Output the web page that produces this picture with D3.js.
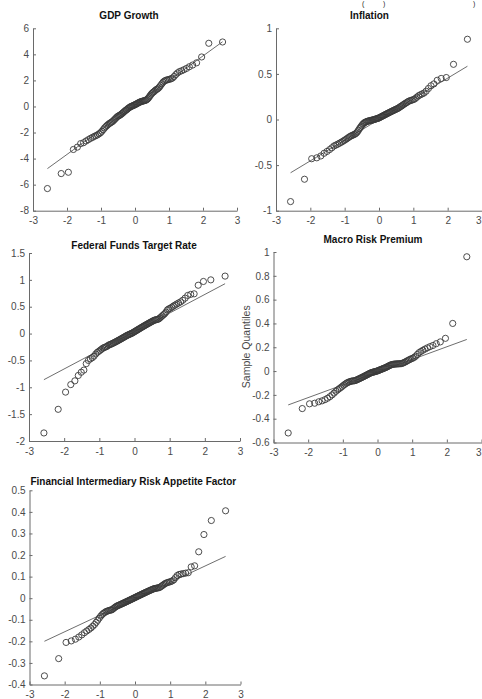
<!DOCTYPE html>
<html>
<head>
<meta charset="utf-8">
<script src="https://cdn.jsdelivr.net/npm/d3@7"></script>
<style>
  html, body { margin: 0; padding: 0; background: #fff; overflow: hidden; }
  svg { display: block; font-family: "Liberation Sans", Arial, Helvetica, sans-serif; }
</style>
</head>
<body>
<svg id="chart" width="482" height="699"></svg>
<script>
// Sorted sample values (sample quantiles) for each factor
const gdpGrowth = [
  -6.30, -5.15, -5.05, -3.30, -3.12, -2.85, -2.78, -2.65, -2.55, -2.45,
  -2.38, -2.30, -2.24, -2.18, -2.10, -2.02, -1.90, -1.78, -1.65, -1.55,
  -1.46, -1.38, -1.31, -1.26, -1.20, -1.15, -1.07, -0.99, -0.91, -0.83,
  -0.76, -0.72, -0.68, -0.64, -0.58, -0.52, -0.46, -0.40, -0.34, -0.28,
  -0.24, -0.18, -0.12, -0.08, -0.03, 0.00, 0.03, 0.06, 0.09, 0.12,
  0.15, 0.19, 0.22, 0.26, 0.30, 0.33, 0.36, 0.38, 0.40, 0.42,
  0.44, 0.46, 0.48, 0.52, 0.58, 0.66, 0.76, 0.86, 0.96, 1.04,
  1.10, 1.16, 1.24, 1.30, 1.34, 1.41, 1.50, 1.62, 1.74, 1.86,
  1.94, 2.00, 2.03, 2.06, 2.09, 2.12, 2.18, 2.30, 2.45, 2.58,
  2.68, 2.74, 2.82, 2.92, 3.05, 3.18, 3.35, 3.80, 4.85, 4.95
];
const inflation = [
  -0.90, -0.655, -0.43, -0.42, -0.40, -0.37, -0.35, -0.33, -0.31, -0.29,
  -0.28, -0.27, -0.26, -0.25, -0.24, -0.23, -0.22, -0.21, -0.20, -0.19,
  -0.182, -0.176, -0.17, -0.164, -0.158, -0.148, -0.135, -0.118, -0.10, -0.085,
  -0.07, -0.055, -0.045, -0.035, -0.03, -0.025, -0.02, -0.018, -0.015, -0.012,
  -0.01, -0.008, -0.005, -0.003, 0.00, 0.003, 0.006, 0.01, 0.012, 0.015,
  0.02, 0.025, 0.03, 0.035, 0.04, 0.045, 0.05, 0.055, 0.06, 0.065,
  0.07, 0.075, 0.08, 0.085, 0.09, 0.095, 0.10, 0.105, 0.11, 0.115,
  0.12, 0.125, 0.135, 0.142, 0.148, 0.158, 0.166, 0.174, 0.182, 0.19,
  0.20, 0.205, 0.21, 0.215, 0.22, 0.23, 0.245, 0.26, 0.27, 0.28,
  0.29, 0.31, 0.34, 0.37, 0.39, 0.43, 0.45, 0.46, 0.605, 0.88
];
const fedFundsRate = [
  -1.85, -1.41, -1.09, -0.95, -0.88, -0.78, -0.72, -0.68, -0.56, -0.50,
  -0.47, -0.45, -0.42, -0.38, -0.35, -0.33, -0.31, -0.29, -0.27, -0.26,
  -0.25, -0.24, -0.225, -0.21, -0.204, -0.194, -0.185, -0.175, -0.165, -0.155,
  -0.145, -0.135, -0.125, -0.115, -0.105, -0.095, -0.085, -0.075, -0.065, -0.055,
  -0.045, -0.035, -0.028, -0.02, -0.012, -0.005, 0.002, 0.01, 0.02, 0.03,
  0.04, 0.05, 0.06, 0.07, 0.08, 0.09, 0.10, 0.11, 0.12, 0.13,
  0.14, 0.15, 0.16, 0.17, 0.18, 0.19, 0.20, 0.21, 0.22, 0.23,
  0.24, 0.25, 0.255, 0.26, 0.265, 0.273, 0.29, 0.31, 0.33, 0.35,
  0.37, 0.40, 0.44, 0.46, 0.47, 0.49, 0.51, 0.53, 0.55, 0.57,
  0.59, 0.62, 0.66, 0.71, 0.73, 0.74, 0.90, 0.97, 1.00, 1.07
];
const macroRiskPremium = [
  -0.52, -0.315, -0.275, -0.27, -0.258, -0.25, -0.24, -0.228, -0.215, -0.20,
  -0.185, -0.17, -0.158, -0.148, -0.138, -0.128, -0.118, -0.11, -0.102, -0.096,
  -0.092, -0.088, -0.085, -0.083, -0.082, -0.081, -0.078, -0.074, -0.07, -0.066,
  -0.062, -0.058, -0.054, -0.05, -0.046, -0.042, -0.038, -0.034, -0.03, -0.026,
  -0.022, -0.018, -0.015, -0.012, -0.01, -0.008, -0.006, -0.004, -0.002, 0.0,
  0.003, 0.006, 0.009, 0.012, 0.015, 0.018, 0.021, 0.024, 0.027, 0.03,
  0.034, 0.038, 0.042, 0.046, 0.05, 0.053, 0.055, 0.057, 0.058, 0.059,
  0.06, 0.06, 0.061, 0.061, 0.062, 0.063, 0.066, 0.07, 0.075, 0.08,
  0.086, 0.092, 0.098, 0.103, 0.108, 0.115, 0.125, 0.14, 0.155, 0.165,
  0.175, 0.185, 0.195, 0.205, 0.215, 0.23, 0.245, 0.275, 0.40, 0.96
];
const riskAppetiteFactor = [
  -0.36, -0.28, -0.205, -0.198, -0.19, -0.18, -0.17, -0.16, -0.152, -0.145,
  -0.138, -0.13, -0.122, -0.112, -0.102, -0.092, -0.083, -0.076, -0.07, -0.066,
  -0.062, -0.06, -0.058, -0.056, -0.055, -0.054, -0.05, -0.046, -0.042, -0.039,
  -0.036, -0.034, -0.032, -0.03, -0.028, -0.026, -0.024, -0.022, -0.02, -0.018,
  -0.016, -0.014, -0.012, -0.01, -0.008, -0.006, -0.004, -0.002, 0.0, 0.002,
  0.004, 0.006, 0.008, 0.01, 0.012, 0.014, 0.016, 0.018, 0.02, 0.022,
  0.024, 0.026, 0.028, 0.03, 0.032, 0.034, 0.036, 0.038, 0.04, 0.042,
  0.044, 0.045, 0.046, 0.047, 0.048, 0.049, 0.052, 0.056, 0.06, 0.064,
  0.068, 0.071, 0.073, 0.075, 0.077, 0.08, 0.085, 0.095, 0.105, 0.11,
  0.112, 0.114, 0.116, 0.118, 0.145, 0.15, 0.215, 0.295, 0.36, 0.405
];

const panelTitles = [
  "GDP Growth",
  "Inflation",
  "Federal Funds Target Rate",
  "Macro Risk Premium",
  "Financial Intermediary Risk Appetite Factor"
];
const xTickValues = [-3, -2, -1, 0, 1, 2, 3];
const gdpTicks = [-8, -6, -4, -2, 0, 2, 4, 6];
const inflationTicks = [-1, -0.5, 0, 0.5, 1];
const fedTicks = [-2, -1.5, -1, -0.5, 0, 0.5, 1, 1.5];
const macroTicks = [-0.6, -0.4, -0.2, 0, 0.2, 0.4, 0.6, 0.8, 1];
const firafTicks = [-0.4, -0.3, -0.2, -0.1, 0, 0.1, 0.2, 0.3, 0.4, 0.5];
const yAxisLabel = "Sample Quantiles";

// Inverse standard normal CDF (Acklam's rational approximation)
function normInv(p) {
  const a = [-3.969683028665376e+01, 2.209460984245205e+02, -2.759285104469687e+02,
             1.383577518672690e+02, -3.066479806614716e+01, 2.506628277459239e+00];
  const b = [-5.447609879822406e+01, 1.615858368580409e+02, -1.556989798598866e+02,
             6.680131188771972e+01, -1.328068155288572e+01];
  const c = [-7.784894002430293e-03, -3.223964580411365e-01, -2.400758276161838e+00,
             -2.549732539343734e+00, 4.374664141464968e+00, 2.938163982698783e+00];
  const d = [7.784695709041462e-03, 3.224671290700398e-01, 2.445134137142996e+00,
             3.754408661907416e+00];
  const pl = 0.02425, ph = 1 - pl;
  let q, r;
  if (p < pl) {
    q = Math.sqrt(-2 * Math.log(p));
    return (((((c[0]*q+c[1])*q+c[2])*q+c[3])*q+c[4])*q+c[5]) /
           ((((d[0]*q+d[1])*q+d[2])*q+d[3])*q+1);
  }
  if (p > ph) {
    q = Math.sqrt(-2 * Math.log(1 - p));
    return -(((((c[0]*q+c[1])*q+c[2])*q+c[3])*q+c[4])*q+c[5]) /
            ((((d[0]*q+d[1])*q+d[2])*q+d[3])*q+1);
  }
  q = p - 0.5; r = q * q;
  return (((((a[0]*r+a[1])*r+a[2])*r+a[3])*r+a[4])*r+a[5])*q /
         (((((b[0]*r+b[1])*r+b[2])*r+b[3])*r+b[4])*r+1);
}

// Percentile on sorted data, using (i-0.5)/n plotting positions
function prctile(sorted, pct) {
  const n = sorted.length;
  const pos = n * pct / 100 + 0.5;
  if (pos <= 1) return sorted[0];
  if (pos >= n) return sorted[n - 1];
  const lo = Math.floor(pos), f = pos - lo;
  return sorted[lo - 1] + f * (sorted[lo] - sorted[lo - 1]);
}

const panels = [
  { title: panelTitles[0], values: gdpGrowth, yDomain: [-8, 6], yTicks: gdpTicks,
    box: { l: 33, r: 237, t: 28.3, b: 210.7 }, titleX: 129, titleY: 19.3 },
  { title: panelTitles[1], values: inflation, yDomain: [-1, 1], yTicks: inflationTicks,
    box: { l: 276, r: 482, t: 28.3, b: 210.7 }, titleX: 369.5, titleY: 19.3 },
  { title: panelTitles[2], values: fedFundsRate, yDomain: [-2, 1.5], yTicks: fedTicks,
    box: { l: 29, r: 240, t: 253, b: 441 }, titleX: 134, titleY: 249 },
  { title: panelTitles[3], values: macroRiskPremium, yDomain: [-0.6, 1], yTicks: macroTicks,
    box: { l: 273.5, r: 481.5, t: 252, b: 442.5 }, titleX: 373, titleY: 243, yLabel: yAxisLabel },
  { title: panelTitles[4], values: riskAppetiteFactor, yDomain: [-0.4, 0.5], yTicks: firafTicks,
    box: { l: 29.5, r: 240.5, t: 490.3, b: 684.5 }, titleX: 133.3, titleY: 485 }
];

const W = 482;
const svg = d3.select("#chart");
const axisColor = "#6a6a6a";
const textColor = "#4a4a4a";

// Closing brackets of the equation line above the figure
const topGlyphs = svg.append("g").attr("fill", "#222").attr("font-size", 7);
topGlyphs.append("text").attr("x", 362).attr("y", 6).text("(");
topGlyphs.append("text").attr("x", 383).attr("y", 6).text(")");
topGlyphs.append("text").attr("x", 473).attr("y", 6).text(")");

panels.forEach(p => {
  const n = p.values.length;
  const sorted = p.values.slice().sort((a, b) => a - b);
  const z = d3.range(n).map(i => normInv((i + 0.5) / n));
  const pts = sorted.map((v, i) => [z[i], v]);

  const x = d3.scaleLinear().domain([-3, 3]).range([p.box.l, p.box.r]);
  const y = d3.scaleLinear().domain(p.yDomain).range([p.box.b, p.box.t]);

  const g = svg.append("g");

  // Axes: left and bottom only, ticks pointing inward
  const xAxis = d3.axisBottom(x).tickValues(xTickValues).tickSizeInner(-3)
    .tickSizeOuter(0).tickPadding(6.4).tickFormat(d => String(d));
  const yAxis = d3.axisLeft(y).tickValues(p.yTicks).tickSizeInner(-3)
    .tickSizeOuter(0).tickPadding(4).tickFormat(d => String(d));

  const gx = g.append("g").attr("transform", `translate(0,${p.box.b})`).call(xAxis);
  const gy = g.append("g").attr("transform", `translate(${p.box.l},0)`).call(yAxis);
  [gx, gy].forEach(a => {
    a.select(".domain").attr("stroke", axisColor).attr("stroke-width", 1);
    a.selectAll(".tick line").attr("stroke", axisColor).attr("stroke-width", 1);
    a.selectAll(".tick text").attr("fill", textColor).attr("font-size", 10)
      .attr("font-family", '"Liberation Sans", Arial, sans-serif');
  });
  // Keep an x tick label that reaches the page edge inside the page
  gx.selectAll(".tick").each(function(d) {
    if (x(d) + 4 > W) {
      d3.select(this).select("text").attr("text-anchor", "end").attr("x", W - 1 - x(d));
    }
  });

  // Reference line through the first and third quartiles
  const q1x = prctile(z, 25), q3x = prctile(z, 75);
  const q1y = prctile(sorted, 25), q3y = prctile(sorted, 75);
  const slope = (q3y - q1y) / (q3x - q1x);
  const cx = (q1x + q3x) / 2, cy = (q1y + q3y) / 2;
  const zmin = z[0], zmax = z[n - 1];
  const refPts = [[zmin, cy + slope * (zmin - cx)], [zmax, cy + slope * (zmax - cx)]];
  g.append("path")
    .attr("d", d3.line().x(d => x(d[0])).y(d => y(d[1]))(refPts))
    .attr("fill", "none").attr("stroke", "#6e6e6e").attr("stroke-width", 1);

  // Sample points
  g.append("g").selectAll("circle").data(pts).join("circle")
    .attr("cx", d => x(d[0])).attr("cy", d => y(d[1])).attr("r", 3.1)
    .attr("fill", "none").attr("stroke", "#3a3a3a").attr("stroke-width", 0.9);

  // Title
  g.append("text").attr("x", p.titleX).attr("y", p.titleY)
    .attr("text-anchor", "middle").attr("font-size", 10).attr("font-weight", "bold")
    .attr("fill", "#111").text(p.title);

  if (p.yLabel) {
    g.append("text")
      .attr("transform", `translate(${p.box.l - 24},${(p.box.t + p.box.b) / 2 - 0.5}) rotate(-90)`)
      .attr("text-anchor", "middle").attr("font-size", 10.5).attr("fill", textColor)
      .text(p.yLabel);
  }
});
</script>
</body>
</html>
